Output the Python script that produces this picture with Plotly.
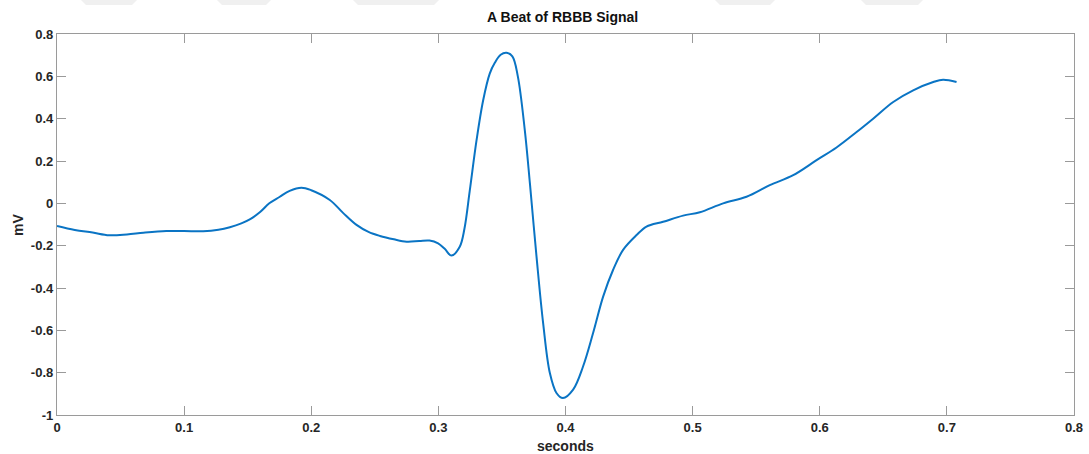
import plotly.graph_objects as go

# time (s) and amplitude (mV)
t = [0.0, 0.014, 0.028, 0.041, 0.055, 0.068, 0.086, 0.100, 0.115, 0.127, 0.136, 0.145,
     0.152, 0.160, 0.167, 0.175, 0.183, 0.1923, 0.200, 0.2146, 0.225, 0.2356,
     0.245, 0.254, 0.265, 0.275, 0.285, 0.293, 0.2998, 0.305, 0.3103, 0.3168, 0.3205,
     0.3247, 0.33, 0.3352, 0.3404, 0.3445, 0.3490, 0.3536, 0.3582,
     0.3625, 0.368, 0.372, 0.3772, 0.3824, 0.3877, 0.3929, 0.398, 0.406,
     0.4138, 0.4217, 0.4296, 0.4374, 0.4453, 0.4559, 0.4637, 0.4768, 0.4925, 0.5057,
     0.524, 0.5424, 0.5607, 0.5791, 0.5975, 0.6132, 0.629, 0.642, 0.6578, 0.6735,
     0.6893, 0.697, 0.7076]
mv = [-0.107, -0.126, -0.138, -0.151, -0.147, -0.139, -0.131, -0.131, -0.132, -0.125,
      -0.113, -0.095, -0.075, -0.040, 0.0, 0.030, 0.059, 0.074, 0.062, 0.016,
      -0.045, -0.102, -0.135, -0.154, -0.170, -0.181, -0.178, -0.176, -0.189, -0.215,
      -0.247, -0.205, -0.120, 0.06, 0.297, 0.486, 0.613, 0.665, 0.702, 0.711, 0.694,
      0.600, 0.345, 0.094, -0.252, -0.566, -0.802, -0.896, -0.920,
      -0.880, -0.771, -0.613, -0.441, -0.315, -0.220, -0.150, -0.110, -0.087, -0.058,
      -0.042, 0.0, 0.031, 0.086, 0.133, 0.204, 0.264, 0.337, 0.400, 0.479, 0.534,
      0.573, 0.584, 0.573]

x_ticks = [0, 0.1, 0.2, 0.3, 0.4, 0.5, 0.6, 0.7, 0.8]
x_labels = ["0", "0.1", "0.2", "0.3", "0.4", "0.5", "0.6", "0.7", "0.8"]
y_ticks = [-1, -0.8, -0.6, -0.4, -0.2, 0, 0.2, 0.4, 0.6, 0.8]
y_labels = ["-1", "-0.8", "-0.6", "-0.4", "-0.2", "0", "0.2", "0.4", "0.6", "0.8"]

FONT = "Liberation Sans, Arial, sans-serif"
TXT = "#262626"
AX = "#9a9a9a"

fig = go.Figure()
fig.add_trace(go.Scatter(x=t, y=mv, mode="lines",
                         line=dict(color="#0a74c4", width=2, shape="spline", smoothing=1.0),
                         showlegend=False, hoverinfo="skip"))

axis_common = dict(showgrid=False, zeroline=False, showline=True, linecolor=AX, linewidth=1.3,
                   mirror="ticks", ticks="inside", ticklen=9, tickcolor=AX, tickwidth=1,
                   automargin=False, tickfont=dict(family=FONT, size=13, color=TXT))

fig.update_xaxes(range=[0, 0.8], tickvals=x_ticks, ticktext=["<b>%s</b>" % s for s in x_labels],
                 **axis_common)
fig.update_yaxes(range=[-1, 0.8], tickvals=y_ticks, ticktext=["<b>%s</b>" % s for s in y_labels],
                 **axis_common)

# faint watermark trapezoids at the very top
def px(v):
    return (v - 57) / 1017.0

def py(v):
    return (415 - v) / 381.0

shapes = []
for x0, x1 in [(80, 138), (216, 272), (352, 440), (714, 776), (860, 924)]:
    path = "M %f,%f L %f,%f L %f,%f L %f,%f Z" % (px(x0), py(-1), px(x1), py(-1),
                                                  px(x1 - 6), py(5), px(x0 + 6), py(5))
    shapes.append(dict(type="path", xref="paper", yref="paper", path=path,
                       fillcolor="#f0f0f0", line=dict(width=0), layer="below"))

annotations = [
    dict(text="<b>seconds</b>", xref="paper", yref="paper", x=0.5, y=py(446), xanchor="center",
         yanchor="middle", showarrow=False, font=dict(family=FONT, size=14, color=TXT)),
    dict(text="<b>mV</b>", xref="paper", yref="paper", x=px(18), y=py(225), xanchor="center",
         yanchor="middle", textangle=-90, showarrow=False, font=dict(family=FONT, size=14, color=TXT)),
]

fig.update_layout(
    width=1089, height=454,
    margin=dict(l=57, r=15, t=34, b=39, autoexpand=False),
    paper_bgcolor="white", plot_bgcolor="white",
    title=dict(text="<b>A Beat of RBBB Signal</b>", x=0.5167, xanchor="center", y=0.962, yanchor="middle",
               font=dict(family=FONT, size=14, color="#111111")),
    shapes=shapes,
    annotations=annotations,
)

fig.write_html("out.html")
